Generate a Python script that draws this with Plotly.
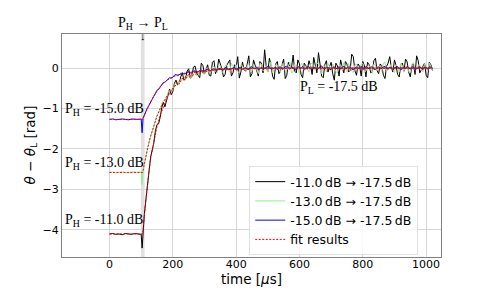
import plotly.graph_objects as go

# ---------------- data ----------------
time_data = ([0, 10, 20, 30, 40, 50, 60, 70, 80, 90, 100, 103]
             + [106, 110, 115, 120, 125]
             + [130, 140, 150, 160, 170, 180, 190, 200, 210, 220,
                230, 240, 250, 260, 270, 280, 290, 300, 310, 320,
                330, 340, 350, 360, 370, 380, 390, 400, 410, 420,
                430, 440, 450, 460, 470, 480, 490, 500, 510, 520,
                530, 540, 550, 560, 570, 580, 590, 600, 610, 620,
                630, 640, 650, 660, 670, 680, 690, 700, 710, 720,
                730, 740, 750, 760, 770, 780, 790, 800, 810, 820,
                830, 840, 850, 860, 870, 880, 890, 900, 910, 920,
                930, 940, 950, 960, 970, 980, 990, 1000, 1010, 1020])

theta_m11 = [-4.10, -4.09, -4.11, -4.10, -4.12, -4.09, -4.10, -4.11, -4.09, -4.10, -4.11, -4.45,
             -4.02, -3.62, -3.25, -2.80, -2.55,
             -2.20, -1.85, -1.40, -1.22, -0.85, -0.82, -0.52, -0.58, -0.30, -0.40,
             -0.12, -0.28, -0.02, -0.22, 0.05, -0.18, 0.12, -0.15, 0.08, -0.20,
             0.18, -0.05, 0.10, -0.22, 0.06, 0.20, -0.12, 0.02, -0.25, 0.15,
             -0.08, 0.30, -0.14, 0.05, -0.20, 0.12, 0.45, -0.10, 0.08, -0.28,
             0.16, -0.06, 0.22, -0.18, 0.04, 0.32, -0.12, 0.10, -0.24, 0.06,
             0.18, -0.16, 0.02, 0.38, -0.20, 0.08, -0.10, 0.14, -0.30, 0.05,
             0.20, -0.12, 0.10, -0.06, 0.28, -0.18, 0.04, 0.16, -0.22, 0.08,
             -0.10, 0.24, -0.14, 0.06, -0.26, 0.12, 0.02, 0.20, -0.16, 0.08,
             -0.08, 0.15, -0.22, 0.10, 0.30, -0.12, 0.04, -0.18, 0.14, -0.06]

theta_m13 = [-2.58, -2.57, -2.59, -2.58, -2.57, -2.58, -2.59, -2.57, -2.58, -2.58, -2.57, -2.88,
             -2.55, -2.35, -2.19, -1.97, -1.84,
             -1.66, -1.43, -1.16, -1.03, -0.80, -0.74, -0.56, -0.53, -0.38, -0.38,
             -0.24, -0.30, -0.16, -0.22, -0.08, -0.18, -0.05, -0.14, -0.02, -0.10,
             0.04, -0.12, 0.06, -0.08, 0.10, -0.10, 0.02, 0.08, -0.12, 0.05,
             -0.06, 0.12, -0.08, 0.03, -0.14, 0.09, 0.00, -0.10, 0.15, -0.04,
             0.07, -0.12, 0.10, -0.05, 0.14, -0.09, 0.02, -0.13, 0.08, 0.04,
             -0.10, 0.12, -0.03, 0.09, -0.14, 0.05, 0.11, -0.07, 0.02, -0.12,
             0.08, 0.13, -0.09, 0.04, -0.11, 0.10, -0.02, 0.12, -0.08, 0.06,
             -0.13, 0.07, 0.02, -0.09, 0.14, -0.05, 0.09, -0.12, 0.03, 0.11,
             -0.07, 0.05, -0.11, 0.13, -0.03, 0.08, -0.10, 0.06, 0.12, -0.05]

theta_m15 = [-1.27, -1.26, -1.28, -1.27, -1.26, -1.27, -1.28, -1.26, -1.27, -1.27, -1.26, -1.60,
             -1.24, -1.16, -1.09, -0.98, -0.92,
             -0.82, -0.70, -0.55, -0.47, -0.36, -0.32, -0.24, -0.23, -0.16, -0.17,
             -0.12, -0.14, -0.09, -0.12, -0.07, -0.10, -0.05, -0.08, -0.03, -0.07,
             -0.02, -0.06, -0.01, -0.05, 0.00, -0.04, 0.01, -0.05, 0.02, -0.03,
             0.01, -0.04, 0.03, -0.02, -0.05, 0.02, -0.01, 0.04, -0.03, 0.00,
             -0.04, 0.03, -0.02, 0.04, -0.03, 0.01, -0.05, 0.02, 0.04, -0.02,
             0.03, -0.04, 0.01, -0.02, 0.05, -0.03, 0.02, -0.04, 0.03, 0.00,
             -0.03, 0.04, -0.01, 0.02, -0.04, 0.03, 0.00, -0.03, 0.04, -0.02,
             0.02, -0.04, 0.03, -0.01, 0.04, -0.03, 0.01, -0.02, 0.03, -0.04,
             0.01, 0.04, -0.03, 0.02, -0.02, 0.03, -0.04, 0.01, 0.03, -0.01]

# samples in between (135, 145, ..., 1015)
time_mid = [135, 145, 155, 165, 175, 185, 195, 205, 215, 225,
            235, 245, 255, 265, 275, 285, 295, 305, 315, 325,
            335, 345, 355, 365, 375, 385, 395, 405, 415, 425,
            435, 445, 455, 465, 475, 485, 495, 505, 515, 525,
            535, 545, 555, 565, 575, 585, 595, 605, 615, 625,
            635, 645, 655, 665, 675, 685, 695, 705, 715, 725,
            735, 745, 755, 765, 775, 785, 795, 805, 815, 825,
            835, 845, 855, 865, 875, 885, 895, 905, 915, 925,
            935, 945, 955, 965, 975, 985, 995, 1005, 1015]

mid_m11 = [-2.05, -1.55, -1.38, -0.98, -0.96, -0.62, -0.66, -0.38, -0.42, -0.22,
           -0.30, -0.08, -0.25, 0.02, -0.12, -0.24, 0.06, -0.04, -0.18, 0.14,
           -0.14, 0.22, -0.02, -0.16, 0.12, -0.20, 0.08, 0.28, -0.10, -0.04,
           0.10, -0.22, 0.20, -0.06, 0.16, -0.12, 0.04, 0.24, -0.20, 0.10,
           -0.14, 0.08, -0.26, 0.14, 0.02, -0.08, 0.20, -0.16, 0.12, -0.04,
           0.06, 0.26, -0.12, 0.10, -0.24, 0.18, 0.04, -0.14, 0.12, -0.20,
           0.02, 0.16, -0.10, 0.34, -0.06, 0.10, -0.20, 0.06, 0.14, -0.12,
           0.18, -0.06, 0.10, -0.18, 0.04, 0.28, -0.10, 0.06, -0.22, 0.12,
           0.22, -0.10, 0.06, -0.16, 0.18, -0.04, 0.12, -0.24, 0.08]
mid_m13 = [-1.58, -1.26, -1.12, -0.88, -0.80, -0.60, -0.58, -0.42, -0.44, -0.28,
           -0.32, -0.18, -0.24, -0.10, -0.20, -0.06, -0.14, 0.00, -0.12, 0.02,
           -0.08, 0.07, -0.11, 0.04, -0.06, 0.12, -0.03, -0.09, 0.08, -0.02,
           0.05, -0.10, 0.09, -0.04, 0.11, -0.07, 0.06, 0.02, -0.11, 0.08,
           -0.03, 0.10, -0.08, 0.05, -0.12, 0.09, 0.01, 0.11, -0.06, -0.02,
           0.09, -0.06, 0.13, -0.04, 0.06, -0.10, 0.03, 0.10, -0.09, 0.05,
           -0.05, 0.02, 0.11, -0.08, 0.07, -0.03, 0.09, -0.11, 0.04, -0.01,
           0.10, -0.06, 0.05, 0.12, -0.08, 0.02, -0.04, 0.08, -0.10, 0.06,
           0.03, -0.09, 0.10, -0.05, 0.07, -0.02, 0.11, -0.07, 0.04]
mid_m15 = [-0.77, -0.61, -0.53, -0.40, -0.35, -0.27, -0.25, -0.18, -0.19, -0.13,
           -0.15, -0.10, -0.12, -0.08, -0.10, -0.06, -0.08, -0.04, -0.07, -0.03,
           -0.05, -0.01, -0.04, 0.01, -0.03, -0.02, 0.02, -0.04, 0.00, -0.01,
           -0.03, 0.02, -0.01, 0.03, -0.02, -0.04, 0.01, 0.03, -0.02, 0.02,
           0.02, -0.03, 0.04, -0.01, 0.02, -0.04, 0.03, -0.01, -0.03, 0.03,
           -0.02, 0.03, -0.03, 0.04, -0.01, 0.02, -0.03, 0.01, -0.02, 0.03,
           0.02, -0.02, 0.03, -0.03, 0.01, -0.01, 0.04, -0.02, 0.01, 0.03,
           -0.03, 0.01, -0.02, 0.03, -0.01, 0.02, -0.04, 0.03, 0.00, -0.02,
           -0.02, 0.01, 0.03, -0.04, 0.02, -0.01, 0.02, -0.03, 0.02]

time_fit = [0, 105, 110, 115, 120, 125, 130, 140, 150, 160, 170, 180, 190, 200,
            210, 220, 230, 240, 250, 260, 270, 280, 290, 300, 320, 340, 360, 380,
            400, 450, 500, 1020]
fit_m11 = [-4.10, -4.10, -3.65, -3.22, -2.85, -2.52, -2.24, -1.80, -1.45, -1.17, -0.95,
           -0.77, -0.62, -0.50, -0.40, -0.32, -0.26, -0.21, -0.17, -0.13, -0.11, -0.09,
           -0.07, -0.06, -0.04, -0.03, -0.02, -0.015, -0.01, -0.005, 0.0, 0.0]
fit_m13 = [-2.58, -2.58, -2.37, -2.17, -1.99, -1.83, -1.68, -1.41, -1.19, -1.00, -0.84,
           -0.71, -0.60, -0.50, -0.42, -0.36, -0.30, -0.25, -0.21, -0.18, -0.15, -0.13,
           -0.11, -0.09, -0.063, -0.045, -0.032, -0.022, -0.016, -0.007, -0.003, 0.0]
fit_m15 = [-1.27, -1.27, -1.17, -1.08, -0.99, -0.91, -0.83, -0.69, -0.57, -0.46, -0.38,
           -0.31, -0.26, -0.22, -0.18, -0.16, -0.14, -0.12, -0.11, -0.10, -0.09, -0.08,
           -0.07, -0.06, -0.05, -0.04, -0.03, -0.03, -0.02, -0.015, -0.01, 0.0]

series_names = ["-11.0\u2009dB \u2192 -17.5\u2009dB",
                "-13.0\u2009dB \u2192 -17.5\u2009dB",
                "-15.0\u2009dB \u2192 -17.5\u2009dB"]
x_ticks = [0, 200, 400, 600, 800, 1000]
y_ticks = [-4, -3, -2, -1, 0]
y_ticktext = ["\u22124", "\u22123", "\u22122", "\u22121", "0"]


def merged(main, mid):
    pairs = sorted(zip(time_data + time_mid, main + mid))
    return [p[0] for p in pairs], [p[1] for p in pairs]


# ---------------- figure ----------------
fig = go.Figure()
colors = ["black", "#90ee90", "blue"]
for name, ys, ms, c in zip(series_names, [theta_m11, theta_m13, theta_m15],
                           [mid_m11, mid_m13, mid_m15], colors):
    xs, yv = merged(ys, ms)
    fig.add_trace(go.Scatter(x=xs, y=yv, mode="lines", name=name,
                             line=dict(color=c, width=1)))
for i, ys in enumerate([fit_m11, fit_m13, fit_m15]):
    fig.add_trace(go.Scatter(x=time_fit, y=ys, mode="lines", name="fit results",
                             showlegend=(i == 0),
                             line=dict(color="red", width=1, dash="2px,1.5px")))

fig.add_shape(type="rect", xref="x", yref="paper", x0=99, x1=111, y0=0, y1=1,
              fillcolor="#d9d9d9", opacity=0.8, line_width=0, layer="below")

serif = "Liberation Serif, Times New Roman, serif"
sfont = dict(family=serif, size=14, color="black")
ann = [
    dict(x=105, y=1.0, xref="x", yref="paper", text="P<sub>H</sub> \u2192 P<sub>L</sub>",
         yshift=21, showarrow=False, font=sfont),
    dict(x=105, y=1.0, xref="x", yref="paper", text="\u2193",
         yshift=6, showarrow=False, font=dict(family=serif, size=11, color="black")),
    dict(x=-147, y=-1.03, xref="x", yref="y", text="P<sub>H</sub> = -15.0 dB",
         xanchor="left", showarrow=False, font=sfont),
    dict(x=-147, y=-2.35, xref="x", yref="y", text="P<sub>H</sub> = -13.0 dB",
         xanchor="left", showarrow=False, font=sfont),
    dict(x=-147, y=-3.78, xref="x", yref="y", text="P<sub>H</sub> = -11.0 dB",
         xanchor="left", showarrow=False, font=sfont),
    dict(x=595, y=-0.49, xref="x", yref="y", text="P<sub>L</sub> = -17.5 dB",
         xanchor="left", showarrow=False, font=sfont),
    dict(x=0.5, y=0, xref="paper", yref="paper", yshift=-22, yanchor="middle",
         text="time [<i>\u03bc</i>s]", showarrow=False,
         font=dict(family="DejaVu Sans", size=13.5, color="black")),
    dict(x=0, y=0.5, xref="paper", yref="paper", xshift=-32, xanchor="center",
         yanchor="middle",
         text="<i>\u03b8</i> \u2212 <i>\u03b8</i><sub>L</sub> [rad]", textangle=-90,
         showarrow=False, font=dict(family="DejaVu Sans", size=13.5, color="black")),
]
fig.update_layout(annotations=ann)

axis_common = dict(showline=True, mirror=True, linecolor="#808080", linewidth=1,
                   showgrid=True, gridcolor="#d6d6d6", gridwidth=1, zeroline=False,
                   ticks="", tickfont=dict(family="DejaVu Sans", size=11, color="black"))
fig.update_xaxes(range=[-150, 1047], tickvals=x_ticks, ticklabelstandoff=-3, **axis_common)
fig.update_yaxes(range=[-4.67, 0.84], tickvals=y_ticks, ticktext=y_ticktext, **axis_common)

fig.update_layout(
    width=491, height=294,
    margin=dict(l=62, r=50, t=34, b=37),
    plot_bgcolor="white", paper_bgcolor="white",
    font=dict(color="black"),
    showlegend=True,
    legend=dict(x=0.494, y=0.408, xanchor="left", yanchor="top",
                bgcolor="rgba(255,255,255,0.85)", bordercolor="#e0e0e0", borderwidth=1,
                font=dict(family="DejaVu Sans", size=12.5, color="black"),
                tracegroupgap=0),
)

fig.write_html("out.html", config={"displayModeBar": False},
               post_script="document.body.style.margin='0';")
